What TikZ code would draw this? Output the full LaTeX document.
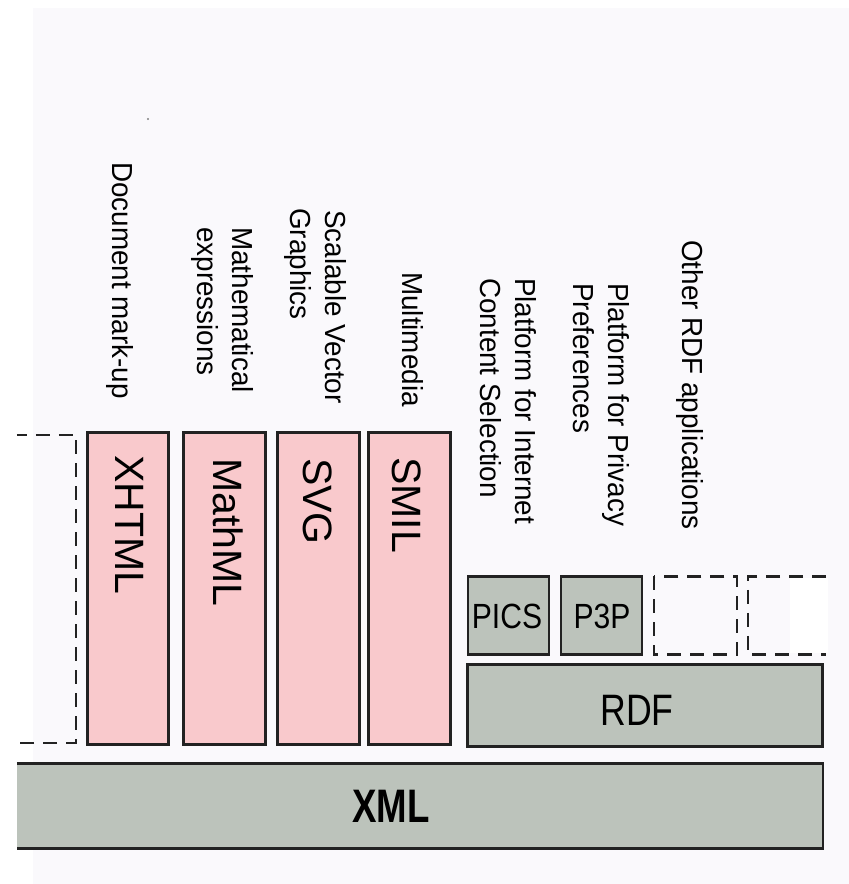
\documentclass[tikz,border=0pt]{standalone}
\usepackage{fontspec}
\setmainfont{Liberation Sans}
\newfontfamily\lblfont[FakeStretch=0.96]{Liberation Sans}
\newfontfamily\smfont[FakeStretch=0.86]{Liberation Sans}
\newfontfamily\rdffont[FakeStretch=0.81]{Liberation Sans}
\newfontfamily\xmlfont[FakeStretch=0.78]{Liberation Sans Bold}
\definecolor{bgc}{HTML}{FAF9FC}
\definecolor{pinkc}{HTML}{F9C9CC}
\definecolor{greyc}{HTML}{BCC3BB}
\definecolor{edgec}{HTML}{222222}
\tikzset{
  pinkbox/.style={draw=edgec, line width=2.5pt, fill=pinkc, inner sep=0pt},
  greybox/.style={draw=edgec, line width=2.5pt, fill=greyc, inner sep=0pt},
  emptybox/.style={inner sep=0pt},
  dashline/.style={draw=edgec, line width=2.5pt, dash pattern=on 14pt off 9pt},
  solidline/.style={draw=edgec, line width=2.5pt},
  lbl/.style={inner sep=0pt, rotate=-90, anchor=base west, font=\lblfont\fontsize{29}{35}\selectfont},
  bigtxt/.style={inner sep=0pt, rotate=-90, anchor=base west, font=\fontsize{41}{49}\selectfont},
  smtxt/.style={inner sep=0pt, anchor=base, font=\smfont\fontsize{35}{42}\selectfont},
}
\begin{document}
\begin{tikzpicture}[x=1pt, y=-1pt]
\useasboundingbox (0,0) rectangle (849,884);
\fill[bgc] (0,0) rectangle (849,884);
\fill[white] (0,0) rectangle (33,884);
\fill[white] (0,0) rectangle (849,8);
\fill[gray] (148,119) circle (1.2pt);

% XML base layer (open at left)
\node[emptybox, fill=greyc, minimum width=806pt, minimum height=85pt] (xml) at (420,806) {};
\draw[solidline] (xml.north west) -- (xml.north east) -- (xml.south east) -- (xml.south west);
\node[inner sep=0pt, anchor=base, font=\xmlfont\fontsize{47}{56}\selectfont] (xmlt) at (391,822) {XML};

% RDF layer
\node[greybox, minimum width=355pt, minimum height=82pt] (rdf) at (645,705.5) {};
\node[inner sep=0pt, anchor=base, font=\rdffont\fontsize{44}{52}\selectfont] (rdft) at (637,725) {RDF};

% RDF applications
\node[greybox, minimum width=81pt, minimum height=78pt] (pics) at (508.5,615.5) {};
\node[smtxt] (picst) at (507,628) {PICS};
\node[greybox, minimum width=81pt, minimum height=78pt] (p3p) at (601.5,615.5) {};
\node[smtxt] (p3pt) at (602,628) {P3P};
\node[emptybox, minimum width=83pt, minimum height=78pt] (other1) at (695.5,615.5) {};
\draw[dashline] (other1.north west) rectangle (other1.south east);
\fill[white] (790,578) rectangle (828,653);
\node[emptybox, minimum width=78pt, minimum height=78pt] (other2) at (787,615.5) {};
\draw[dashline] (other2.north east) -- (other2.north west) -- (other2.south west) -- (other2.south east);

% XML applications
\node[emptybox, minimum width=59pt, minimum height=308pt] (otherx) at (46.5,589) {};
\draw[dashline, dash phase=4pt] (otherx.north west) -- (otherx.north east) -- (otherx.south east) -- (otherx.south west);
\node[pinkbox, minimum width=81pt, minimum height=312pt] (xhtml) at (128,588.5) {};
\node[pinkbox, minimum width=82pt, minimum height=312pt] (mathml) at (224.5,588.5) {};
\node[pinkbox, minimum width=82pt, minimum height=312pt] (svg) at (318.5,588.5) {};
\node[pinkbox, minimum width=82pt, minimum height=312pt] (smil) at (409.5,588.5) {};
\node[bigtxt] (xhtmlt) at (115,455) {XHTML};
\node[bigtxt] (mathmlt) at (213,458) {MathML};
\node[bigtxt] (svgt) at (303,458) {SVG};
\node[bigtxt] (smilt) at (392,457) {SMIL};

% Labels
\node[lbl] (l1) at (112,162) {Document mark-up};
\node[lbl] (l2a) at (232,227) {Mathematical};
\node[lbl] (l2b) at (197,227) {expressions};
\node[lbl] (l3a) at (325,210) {Scalable Vector};
\node[lbl] (l3b) at (290,208) {Graphics};
\node[lbl] (l4) at (402,272) {Multimedia};
\node[lbl] (l5a) at (515,278) {Platform for Internet};
\node[lbl] (l5b) at (480,278) {Content Selection};
\node[lbl] (l6a) at (608,283) {Platform for Privacy};
\node[lbl] (l6b) at (573,283) {Preferences};
\node[lbl] (l7) at (682,240) {Other RDF applications};
\end{tikzpicture}
\end{document}
